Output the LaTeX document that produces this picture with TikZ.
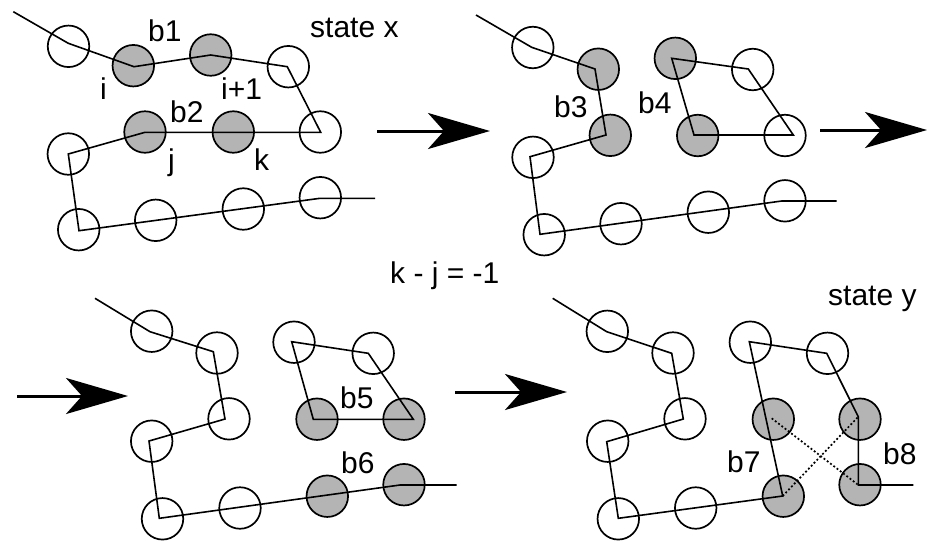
\documentclass[tikz,border=0pt]{standalone}
\usepackage{fontspec}
\setmainfont{Liberation Sans}
\usetikzlibrary{arrows.meta}
\definecolor{beadgray}{RGB}{180,180,180}
\tikzset{
  bead/.style={circle, draw=black, line width=1.7pt, minimum size=41.5pt, inner sep=0pt},
  gbead/.style={bead, fill=beadgray},
  chain/.style={line width=1.6pt, line join=miter},
  dotline/.style={line width=1.7pt, dash pattern=on 1.9pt off 2.2pt},
  lbl/.style={anchor=base west, inner sep=0pt, font=\fontsize{30}{34}\selectfont},
  bigarrow/.style={line width=3pt, -{Stealth[length=62pt, width=36pt, inset=16pt]}}
}
\begin{document}
\begin{tikzpicture}[x=1pt,y=-1pt]
\useasboundingbox (0,0) rectangle (928,542);

% ===== Panel 1: state x =====
\node[bead]  (a1)  at (68.5,46.3) {};
\node[gbead] (a2)  at (133.3,65.7) {};
\node[gbead] (a3)  at (210.7,55) {};
\node[bead]  (a4)  at (288.3,66.7) {};
\node[bead]  (a5)  at (320.3,132) {};
\node[gbead] (a6)  at (233.3,132) {};
\node[gbead] (a7)  at (145,132) {};
\node[bead]  (a8)  at (68.3,154) {};
\node[bead]  (a9)  at (78.7,229.7) {};
\node[bead]  (a10) at (155.7,220.3) {};
\node[bead]  (a11) at (243.3,209) {};
\node[bead]  (a12) at (320.3,197.7) {};
\coordinate (v0) at (13.3,11.7);
\coordinate (v1) at (68.3,43.3);
\coordinate (v2) at (134,66.7);
\coordinate (v3) at (210.7,55);
\coordinate (v4) at (287.3,66.7);
\coordinate (v5) at (320.7,132.3);
\coordinate (v6) at (145,132.3);
\coordinate (v7) at (68.3,154);
\coordinate (v8) at (79,230.7);
\coordinate (v9) at (320,198.3);
\coordinate (v10) at (375,198.3);
\draw[chain] (v0) -- (v1) -- (v2) -- (v3) -- (v4) -- (v5) -- (v6) -- (v7) -- (v8) -- (v9) -- (v10);
\node[lbl] (tb1) at (148,41) {b1};
\node[lbl] (ti) at (100,99) {i};
\node[lbl] (tip1) at (221,99) {i+1};
\node[lbl] (tb2) at (170,122) {b2};
\node[lbl] (tj) at (168,170) {j};
\node[lbl] (tk) at (254,170) {k};
\node[lbl] (tsx) at (310,37) {state x};

% ===== Panel 2 =====
\node[bead]  (b1) at (532.8,47.5) {};
\node[gbead] (b2) at (598.3,69.2) {};
\node[gbead] (b3) at (610.3,135.3) {};
\node[bead]  (b4) at (533,157.3) {};
\node[bead]  (b5) at (544.2,234.7) {};
\node[bead]  (b6) at (621,223.7) {};
\node[bead]  (b7) at (708.3,212.2) {};
\node[bead]  (b8) at (785,200.8) {};
\node[gbead] (e1) at (675.3,58.3) {};
\node[bead]  (e2) at (752.7,69.5) {};
\node[bead]  (e3) at (785,135.5) {};
\node[gbead] (e4) at (697.7,135.5) {};
\coordinate (w0) at (476,15);
\coordinate (w1) at (531.7,47.3);
\coordinate (w2) at (595,69);
\coordinate (w3) at (606,135);
\coordinate (w4) at (530,156.7);
\coordinate (w5) at (540,234.3);
\coordinate (w6) at (781.7,201);
\coordinate (w7) at (836.7,201);
\coordinate (l1) at (671.7,58.3);
\coordinate (l2) at (748.3,69);
\coordinate (l3) at (793.3,135);
\coordinate (l4) at (694,135);
\draw[chain] (w0) -- (w1) -- (w2) -- (w3) -- (w4) -- (w5) -- (w6) -- (w7);
\draw[chain] (l1) -- (l2) -- (l3) -- (l4) -- cycle;
\node[lbl] (tb3) at (554,117) {b3};
\node[lbl] (tb4) at (638,113) {b4};

% ===== Panel 3 =====
\node[bead]  (c1) at (151.7,331.2) {};
\node[bead]  (c2) at (217,353) {};
\node[bead]  (c3) at (229,418.8) {};
\node[bead]  (c4) at (151.7,441.2) {};
\node[bead]  (c5) at (162.5,518.8) {};
\node[bead]  (c6) at (240,508) {};
\node[gbead] (c7) at (327.3,496.2) {};
\node[gbead] (c8) at (404,484.7) {};
\node[bead]  (g1) at (294,342.2) {};
\node[bead]  (g2) at (373.2,353.3) {};
\node[gbead] (g3) at (404,419.2) {};
\node[gbead] (g4) at (317,419.2) {};
\coordinate (x0) at (95,298.3);
\coordinate (x1) at (150,331.7);
\coordinate (x2) at (213.3,351.7);
\coordinate (x3) at (225,419);
\coordinate (x4) at (149,441);
\coordinate (x5) at (159.3,518.3);
\coordinate (x6) at (400,485);
\coordinate (x7) at (456.7,485);
\coordinate (m1) at (291.7,341.7);
\coordinate (m2) at (368.3,353.3);
\coordinate (m3) at (413.3,419.3);
\coordinate (m4) at (313.3,419.3);
\draw[chain] (x0) -- (x1) -- (x2) -- (x3) -- (x4) -- (x5) -- (x6) -- (x7);
\draw[chain] (m1) -- (m2) -- (m3) -- (m4) -- cycle;
\node[lbl] (tb5) at (340,408) {b5};
\node[lbl] (tb6) at (341,473) {b6};

% ===== Panel 4: state y =====
\node[bead]  (d1) at (607.3,331.3) {};
\node[bead]  (d2) at (673,353) {};
\node[bead]  (d3) at (685,418.8) {};
\node[bead]  (d4) at (607.7,441.2) {};
\node[bead]  (d5) at (618.3,518.8) {};
\node[bead]  (d6) at (695.7,508) {};
\node[gbead] (d7) at (783.3,496.2) {};
\node[gbead] (d8) at (860,484.7) {};
\node[bead]  (k1) at (750.3,342.2) {};
\node[bead]  (k2) at (827.5,353.3) {};
\node[gbead] (k3) at (860,419.2) {};
\node[gbead] (k4) at (773.3,419.2) {};
\coordinate (y0) at (552.7,298.3);
\coordinate (y1) at (606.7,331.7);
\coordinate (y2) at (671.7,353.3);
\coordinate (y3) at (683.3,419);
\coordinate (y4) at (606.7,441.7);
\coordinate (y5) at (618.3,518.3);
\coordinate (y6) at (782.7,496);
\coordinate (y7) at (749.3,341.7);
\coordinate (y8) at (826.7,353.3);
\coordinate (y9) at (858.3,416.7);
\coordinate (y10) at (858.3,485);
\coordinate (y11) at (913.3,485);
\coordinate (dA) at (771.7,418.3);
\draw[chain] (y0) -- (y1) -- (y2) -- (y3) -- (y4) -- (y5) -- (y6) -- (y7) -- (y8) -- (y9) -- (y10) -- (y11);
\draw[dotline] (dA) -- (y10);
\draw[dotline] (y6) -- (y9);
\node[lbl] (tb7) at (727,472) {b7};
\node[lbl] (tb8) at (883,464) {b8};
\node[lbl] (tsy) at (828,305) {state y};

% ===== middle text =====
\node[lbl] (tkj) at (390,283) {k - j = -1};

% ===== arrows =====
\coordinate (p1s) at (377,131);
\coordinate (p1e) at (490,131);
\coordinate (p2s) at (820,130);
\coordinate (p2e) at (927,130);
\coordinate (p3s) at (17,396);
\coordinate (p3e) at (128,396);
\coordinate (p4s) at (455,392);
\coordinate (p4e) at (567,392);
\draw[bigarrow] (p1s) -- (p1e);
\draw[bigarrow] (p2s) -- (p2e);
\draw[bigarrow] (p3s) -- (p3e);
\draw[bigarrow] (p4s) -- (p4e);
\end{tikzpicture}
\end{document}
